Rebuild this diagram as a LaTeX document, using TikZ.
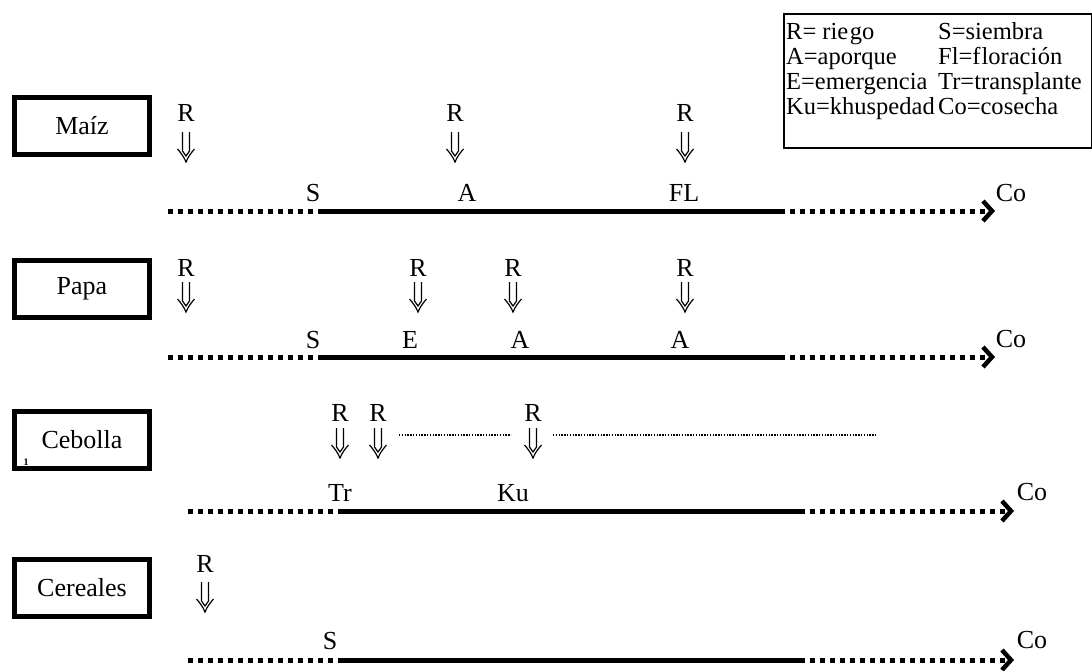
\documentclass[tikz,border=0pt]{standalone}
\usepackage{fontspec}
\setmainfont{Liberation Serif}
\usetikzlibrary{arrows.meta}
\begin{document}
\begin{tikzpicture}[x=1pt,y=-1pt,
  every node/.style={inner sep=0pt,font=\fontsize{26}{28}\selectfont},
  crop/.style={draw,line width=5pt,minimum width=135pt,minimum height=57pt},
  lbl/.style={anchor=base},
  dblarrow/.style={line width=1.2pt,line join=miter},
  dotl/.style={line width=5pt,dash pattern=on 5pt off 5pt},
  solidl/.style={line width=5pt},
  endarrow/.style={line width=5pt,dash pattern=on 5pt off 5pt,-{Straight Barb[length=9pt,width=20pt,line width=4.5pt]}},
  thindot/.style={line width=1.3pt,dash pattern=on 1.4pt off 1.4pt}
]
\useasboundingbox (0,0) rectangle (1092,670);
% double down arrow (like the glyph), drawn from its top centre
\newcommand{\dwnarr}[2]{%
  \draw[dblarrow] (#1-3.5,#2) -- (#1-3.5,#2+19) -- (#1,#2+24) -- (#1+3.5,#2+19) -- (#1+3.5,#2);
  \draw[dblarrow] (#1-8.5,#2+17) .. controls (#1-5,#2+21) and (#1-2,#2+25) .. (#1,#2+30)
                   .. controls (#1+2,#2+25) and (#1+5,#2+21) .. (#1+8.5,#2+17);
}
% legend
\node[draw,line width=1.8pt,minimum width=308pt,minimum height=134pt,anchor=north west] (leg) at (783,13) {};
\begin{scope}[every node/.style={inner sep=0pt,font=\fontsize{24.5}{28}\selectfont}]
\node[anchor=base west] (l1) at (786,39) {R= rie\kern1.5pt go};
\node[anchor=base west] (l2) at (786,64) {A=aporque};
\node[anchor=base west] (l3) at (786,89) {E=emergencia};
\node[anchor=base west] (l4) at (786,114) {Ku=khuspedad};
\node[anchor=base west] (r1) at (938,39) {S=siembra};
\node[anchor=base west] (r2) at (938,64) {Fl=f\kern1pt loraci\kern0.5pt ón};
\node[anchor=base west] (r3) at (938,89) {Tr=transplante};
\node[anchor=base west] (r4) at (938,114) {Co=cosecha};
\end{scope}

% crop boxes
\node[crop] (maiz) at (82,126) {Maíz};
\node[crop] (papa) at (82,289) {Papa};
\node[crop] (ceb) at (82,440) {Cebolla};
\node[crop] (cer) at (82,588) {Cereales};
\node[font=\fontsize{10}{10}\bfseries\selectfont] (mark) at (26,462) {1};

% ---- Maiz
\foreach \n/\x in {a/186,b/455,c/685}{
  \node[lbl] (mR\n) at (\x,121) {R};
  \dwnarr{\x}{132}
}
\node[lbl] (mS) at (313,201) {S};
\node[lbl] (mAp) at (467,201) {A};
\node[lbl] (mFL) at (684,201) {FL};
\node[lbl] (mCo) at (1011,201) {Co};
\coordinate (m0) at (168,211); \coordinate (m1) at (318,211);
\coordinate (m2) at (780,211); \coordinate (m3) at (995,211);
\draw[dotl] (m0) -- (m1);
\draw[solidl] (m1) -- (m2);
\draw[endarrow] (m2) -- (m3);

% ---- Papa
\foreach \n/\x in {a/186,b/418,c/513,d/685}{
  \node[lbl] (pR\n) at (\x,276) {R};
  \dwnarr{\x}{282}
}
\node[lbl] (pS) at (313,348) {S};
\node[lbl] (pE) at (410,348) {E};
\node[lbl] (pAa) at (520,348) {A};
\node[lbl] (pAb) at (680,348) {A};
\node[lbl] (pCo) at (1011,347) {Co};
\coordinate (p0) at (168,357); \coordinate (p1) at (318,357);
\coordinate (p2) at (780,357); \coordinate (p3) at (995,357);
\draw[dotl] (p0) -- (p1);
\draw[solidl] (p1) -- (p2);
\draw[endarrow] (p2) -- (p3);

% ---- Cebolla
\foreach \n/\x in {a/340,b/378,c/533}{
  \node[lbl] (cR\n) at (\x,421) {R};
  \dwnarr{\x}{428}
}
\coordinate (d0) at (399,435); \coordinate (d1) at (511,435);
\coordinate (d2) at (553,435); \coordinate (d3) at (877,435);
\draw[thindot] (d0) -- (d1);
\draw[thindot] (d2) -- (d3);
\node[lbl] (cTr) at (340,501) {Tr};
\node[lbl] (cKu) at (513,501) {Ku};
\node[lbl] (cCo) at (1032,500) {Co};
\coordinate (c0) at (188,511); \coordinate (c1) at (340,511);
\coordinate (c2) at (800,511); \coordinate (c3) at (1014,511);
\draw[dotl] (c0) -- (c1);
\draw[solidl] (c1) -- (c2);
\draw[endarrow] (c2) -- (c3);

% ---- Cereales
\node[lbl] (eR) at (205,572) {R};
\dwnarr{205}{582}
\node[lbl] (eS) at (330,649) {S};
\node[lbl] (eCo) at (1032,648) {Co};
\coordinate (e0) at (188,660); \coordinate (e1) at (340,660);
\coordinate (e2) at (800,660); \coordinate (e3) at (1014,660);
\draw[dotl] (e0) -- (e1);
\draw[solidl] (e1) -- (e2);
\draw[endarrow] (e2) -- (e3);
\end{tikzpicture}
\end{document}
